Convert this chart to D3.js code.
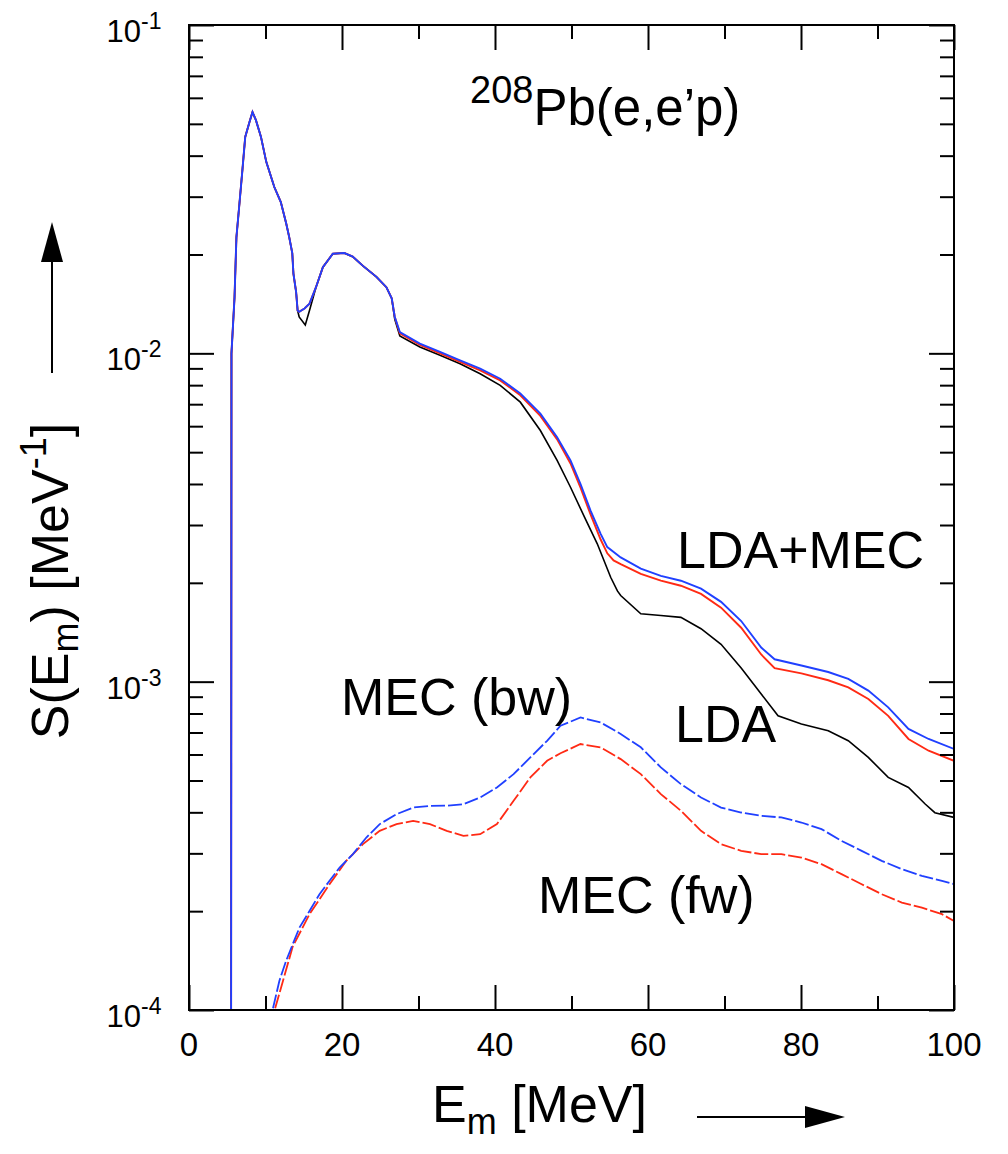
<!DOCTYPE html>
<html>
<head>
<meta charset="utf-8">
<script src="https://cdn.jsdelivr.net/npm/d3@7"></script>
<style>
  html, body { margin: 0; padding: 0; background: #fff; }
  svg { display: block; }
  text { font-family: "Liberation Sans", Arial, Helvetica, sans-serif; fill: #000; }
</style>
</head>
<body>
<svg id="chart" width="1008" height="1154"></svg>
<script>
// ---- spectral function S(E_m) for 208Pb(e,e'p) ----
// Segment shared by all three LDA curves (quasi-hole peak region)
const peakE = [5.5, 5.55, 5.95, 6.2, 6.6, 7.0, 7.35, 7.9, 8.3, 8.75, 9.4, 10.1, 11.15, 12.0, 12.7, 13.1, 13.5, 13.65, 14.0, 14.2];
const peakS = [0.00008, 0.0100, 0.0148, 0.0226, 0.0287, 0.0366, 0.0456, 0.0506, 0.0543, 0.0513, 0.0457, 0.0383, 0.0321, 0.0289, 0.0249, 0.0226, 0.0202, 0.0175, 0.0154, 0.0135];

// Dip near 15 MeV
const ldaDipE = [14.4, 15.2, 15.75];
const ldaDipS = [0.0129, 0.0122, 0.0135];
const mecDipE = [14.4, 15.1, 15.75];
const mecDipS = [0.01337, 0.01369, 0.01417];

// Second bump around 20 MeV (shared)
const bumpE = [16.6, 17.5, 18.8, 20.3, 21.4, 22.7, 24.5, 25.8, 26.5];
const bumpS = [0.0159, 0.0183, 0.0201, 0.0202, 0.0197, 0.0185, 0.0171, 0.0159, 0.0147];

// LDA tail
const ldaTailE = [26.9, 27.56, 30.18, 32.81, 35.43, 38.06, 40.68, 43.31, 45.93, 48.12, 49.87, 51.7, 53.37, 55.12, 56.0, 56.43, 59.06, 61.68, 64.3, 66.93, 69.55, 72.18, 74.8, 77.0, 80.05, 83.56, 86.18, 88.8, 91.4, 94.05, 96.23, 97.5, 100];
const ldaTailS = [0.0127, 0.0113, 0.01045, 0.00986, 0.00930, 0.00867, 0.00799, 0.00710, 0.00582, 0.00472, 0.00391, 0.00317, 0.00263, 0.00208, 0.00189, 0.00183, 0.00161, 0.00159, 0.00157, 0.00145, 0.00130, 0.00110, 0.000917, 0.000787, 0.000743, 0.000709, 0.000661, 0.000588, 0.000511, 0.000476, 0.000424, 0.000399, 0.000386];

// LDA+MEC (bw) tail
const bwTailE = [26.9, 27.56, 30.18, 32.81, 35.43, 38.06, 40.68, 43.31, 45.93, 48.12, 49.87, 51.18, 52.49, 53.81, 54.68, 56.43, 59.06, 61.68, 64.3, 66.93, 69.55, 72.18, 74.8, 76.55, 80.05, 83.56, 86.18, 88.8, 91.4, 94.05, 96.68, 100];
const bwTailS = [0.0129, 0.0116, 0.0107, 0.0101, 0.00952, 0.00898, 0.00837, 0.00754, 0.00655, 0.00555, 0.00472, 0.00400, 0.00332, 0.00282, 0.00257, 0.00239, 0.00221, 0.00210, 0.00203, 0.00192, 0.00175, 0.00153, 0.00127, 0.00117, 0.00112, 0.00107, 0.00102, 0.000939, 0.000835, 0.000718, 0.000669, 0.000624];

// LDA+MEC (fw) tail
const fwTailE = [26.9, 27.56, 30.18, 32.81, 35.43, 38.06, 40.68, 43.31, 45.93, 48.12, 49.87, 51.18, 52.49, 53.81, 54.68, 55.5, 56.43, 59.06, 61.68, 64.3, 66.93, 69.55, 72.18, 74.8, 76.55, 80.05, 83.56, 86.18, 88.8, 91.4, 94.05, 96.68, 100];
const fwTailS = [0.0129, 0.0115, 0.01061, 0.0100, 0.00942, 0.00887, 0.00827, 0.00745, 0.00645, 0.00547, 0.00462, 0.00390, 0.00323, 0.00271, 0.00246, 0.00234, 0.00228, 0.00213, 0.00203, 0.00196, 0.00185, 0.00168, 0.00146, 0.00121, 0.00110, 0.00106, 0.00101, 0.000961, 0.000886, 0.000787, 0.000669, 0.000616, 0.000574];

// MEC contributions alone
const mecBwE = [10.6, 10.93, 11.81, 12.69, 13.56, 14.44, 15.75, 17.06, 18.37, 19.69, 21.43, 23.18, 24.93, 27.13, 29.3, 31.5, 33.69, 35.87, 38.06, 40.25, 42.43, 44.62, 46.81, 48.56, 51.18, 53.81, 56.43, 59.06, 61.68, 64.3, 66.93, 69.55, 72.18, 74.8, 77.43, 80.05, 82.68, 85.3, 87.93, 90.55, 93.18, 95.8, 98.43, 100];
const mecBwS = [0.00009, 1.0e-4, 1.226e-4, 1.411e-4, 1.586e-4, 1.782e-4, 2.003e-4, 2.253e-4, 2.474e-4, 2.716e-4, 2.984e-4, 3.352e-4, 3.683e-4, 3.948e-4, 4.136e-4, 4.186e-4, 4.19e-4, 4.236e-4, 4.438e-4, 4.759e-4, 5.23e-4, 5.877e-4, 6.607e-4, 7.34e-4, 7.78e-4, 7.51e-4, 6.93e-4, 6.31e-4, 5.48e-4, 4.875e-4, 4.438e-4, 4.136e-4, 3.995e-4, 3.904e-4, 3.858e-4, 3.724e-4, 3.556e-4, 3.275e-4, 3.053e-4, 2.847e-4, 2.685e-4, 2.562e-4, 2.474e-4, 2.416e-4];
const mecFwE = [10.9, 11.2, 13.56, 15.75, 18.37, 20.56, 22.74, 24.93, 27.13, 29.3, 31.5, 33.69, 35.87, 38.06, 40.25, 42.43, 44.62, 46.81, 48.56, 51.18, 53.81, 56.43, 59.06, 61.68, 64.3, 66.93, 69.55, 72.18, 74.8, 77.43, 80.05, 82.68, 85.3, 87.93, 90.55, 93.18, 95.8, 98.43, 100];
const mecFwS = [0.00009, 1.0e-4, 1.56e-4, 1.958e-4, 2.416e-4, 2.847e-4, 3.2e-4, 3.513e-4, 3.683e-4, 3.769e-4, 3.683e-4, 3.513e-4, 3.392e-4, 3.432e-4, 3.683e-4, 4.336e-4, 5.109e-4, 5.742e-4, 6.053e-4, 6.457e-4, 6.305e-4, 5.809e-4, 5.23e-4, 4.546e-4, 4.044e-4, 3.513e-4, 3.2e-4, 3.053e-4, 2.984e-4, 2.984e-4, 2.913e-4, 2.78e-4, 2.593e-4, 2.416e-4, 2.253e-4, 2.124e-4, 2.05e-4, 1.958e-4, 1.867e-4];

// Axis ticks and labels
const xMajor = [0, 20, 40, 60, 80, 100];
const xMinor = [10, 30, 50, 70, 90];
const yDecades = [-4, -3, -2, -1];
const yMinorMult = [2, 3, 4, 5, 6, 7, 8, 9];

// ---- layout ----
const plot = { left: 189, right: 954, top: 25, bottom: 1010 };
const svg = d3.select("#chart");
const x = d3.scaleLinear().domain([0, 100]).range([plot.left, plot.right]);
const y = d3.scaleLog().domain([1e-4, 1e-1]).range([plot.bottom, plot.top]);

const zip = (es, ss) => es.map((e, i) => [e, ss[i]]);
const lda = zip(peakE.concat(ldaDipE, bumpE, ldaTailE), peakS.concat(ldaDipS, bumpS, ldaTailS));
const ldaMecBw = zip(peakE.concat(mecDipE, bumpE, bwTailE), peakS.concat(mecDipS, bumpS, bwTailS));
const ldaMecFw = zip(peakE.concat(mecDipE, bumpE, fwTailE), peakS.concat(mecDipS, bumpS, fwTailS));
const mecBw = zip(mecBwE, mecBwS);
const mecFw = zip(mecFwE, mecFwS);

svg.append("defs").append("clipPath").attr("id", "plotClip")
  .append("rect")
  .attr("x", plot.left).attr("y", plot.top)
  .attr("width", plot.right - plot.left).attr("height", plot.bottom - plot.top);

const line = d3.line().x(d => x(d[0])).y(d => y(d[1]));
const curves = svg.append("g").attr("clip-path", "url(#plotClip)").attr("fill", "none");

const blue = "#2040ff", red = "#ff2a14";
curves.append("path").datum(mecFw).attr("d", line)
  .attr("stroke", red).attr("stroke-width", 1.8).attr("stroke-dasharray", "14,3");
curves.append("path").datum(mecBw).attr("d", line)
  .attr("stroke", blue).attr("stroke-width", 1.8).attr("stroke-dasharray", "14,3");
curves.append("path").datum(lda).attr("d", line)
  .attr("stroke", "#000").attr("stroke-width", 1.6);
curves.append("path").datum(ldaMecFw).attr("d", line)
  .attr("stroke", red).attr("stroke-width", 1.9);
curves.append("path").datum(ldaMecBw).attr("d", line)
  .attr("stroke", blue).attr("stroke-width", 1.9);

// ---- ticks (pointing inward on all four sides) ----
const yMajorVals = yDecades.map(k => Math.pow(10, k));
const yMinorVals = [];
yDecades.slice(0, 3).forEach(k => yMinorMult.forEach(m => yMinorVals.push(m * Math.pow(10, k))));

function tickGroup(axis, transform) {
  const g = svg.append("g").attr("transform", transform).call(axis);
  g.select(".domain").remove();
  g.selectAll(".tick line").attr("stroke", "#000").attr("stroke-width", 2);
  g.selectAll(".tick text").remove();
  return g;
}
const majLen = 25, minLen = 14;
tickGroup(d3.axisBottom(x).tickValues(xMajor).tickSize(-majLen), `translate(0,${plot.bottom})`);
tickGroup(d3.axisBottom(x).tickValues(xMinor).tickSize(-minLen), `translate(0,${plot.bottom})`);
tickGroup(d3.axisTop(x).tickValues(xMajor).tickSize(-majLen), `translate(0,${plot.top})`);
tickGroup(d3.axisTop(x).tickValues(xMinor).tickSize(-minLen), `translate(0,${plot.top})`);
tickGroup(d3.axisLeft(y).tickValues(yMajorVals).tickSize(-majLen), `translate(${plot.left},0)`);
tickGroup(d3.axisLeft(y).tickValues(yMinorVals).tickSize(-minLen), `translate(${plot.left},0)`);
tickGroup(d3.axisRight(y).tickValues(yMajorVals).tickSize(-majLen), `translate(${plot.right},0)`);
tickGroup(d3.axisRight(y).tickValues(yMinorVals).tickSize(-minLen), `translate(${plot.right},0)`);

// frame
svg.append("rect")
  .attr("x", plot.left).attr("y", plot.top)
  .attr("width", plot.right - plot.left).attr("height", plot.bottom - plot.top)
  .attr("fill", "none").attr("stroke", "#000").attr("stroke-width", 2);

// ---- tick labels ----
svg.append("g").selectAll("text").data(xMajor).join("text")
  .attr("x", d => x(d)).attr("y", plot.bottom + 46)
  .attr("text-anchor", "middle").attr("font-size", 33)
  .text(d => d);

const yLab = svg.append("g");
yDecades.forEach(k => {
  const py = y(Math.pow(10, k));
  yLab.append("text").attr("x", 141).attr("y", py + 17)
    .attr("text-anchor", "end").attr("font-size", 31).text("10");
  yLab.append("text").attr("x", 141).attr("y", py + 4)
    .attr("text-anchor", "start").attr("font-size", 23).text("-" + (-k));
});

// ---- axis titles ----
const yTitle = svg.append("text")
  .attr("transform", "translate(68,581) rotate(-90)")
  .attr("text-anchor", "middle").attr("font-size", 52);
yTitle.append("tspan").text("S(E");
yTitle.append("tspan").attr("font-size", 36).attr("dy", 10).text("m");
yTitle.append("tspan").attr("dy", -10).text(") [MeV");
yTitle.append("tspan").attr("font-size", 36).attr("dy", -22).text("-1");
yTitle.append("tspan").attr("dy", 22).text("]");

const xTitle = svg.append("text").attr("x", 432).attr("y", 1122).attr("font-size", 52);
xTitle.append("tspan").text("E");
xTitle.append("tspan").attr("font-size", 36).attr("dy", 12).text("m");
xTitle.append("tspan").attr("dy", -12).text(" [MeV]");

// direction arrows
svg.append("line").attr("x1", 52).attr("y1", 373).attr("x2", 52).attr("y2", 255)
  .attr("stroke", "#000").attr("stroke-width", 2);
svg.append("path").attr("d", "M52,222 L63,262 L41,262 Z").attr("fill", "#000");
svg.append("line").attr("x1", 697).attr("y1", 1117).attr("x2", 812).attr("y2", 1117)
  .attr("stroke", "#000").attr("stroke-width", 2);
svg.append("path").attr("d", "M845,1117 L805,1106 L805,1128 Z").attr("fill", "#000");

// ---- reaction label ----
const title = svg.append("text").attr("x", 470).attr("y", 125).attr("font-size", 51);
title.append("tspan").attr("font-size", 38).attr("dy", -22).text("208");
title.append("tspan").attr("dy", 22).text("Pb(e,e’p)");

// ---- curve labels ----
const labels = [
  { t: "LDA+MEC", x: 677, y: 568 },
  { t: "LDA", x: 675, y: 742 },
  { t: "MEC (bw)", x: 341, y: 715 },
  { t: "MEC (fw)", x: 538, y: 913 }
];
svg.append("g").selectAll("text").data(labels).join("text")
  .attr("x", d => d.x).attr("y", d => d.y).attr("font-size", 52)
  .text(d => d.t);
</script>
</body>
</html>
